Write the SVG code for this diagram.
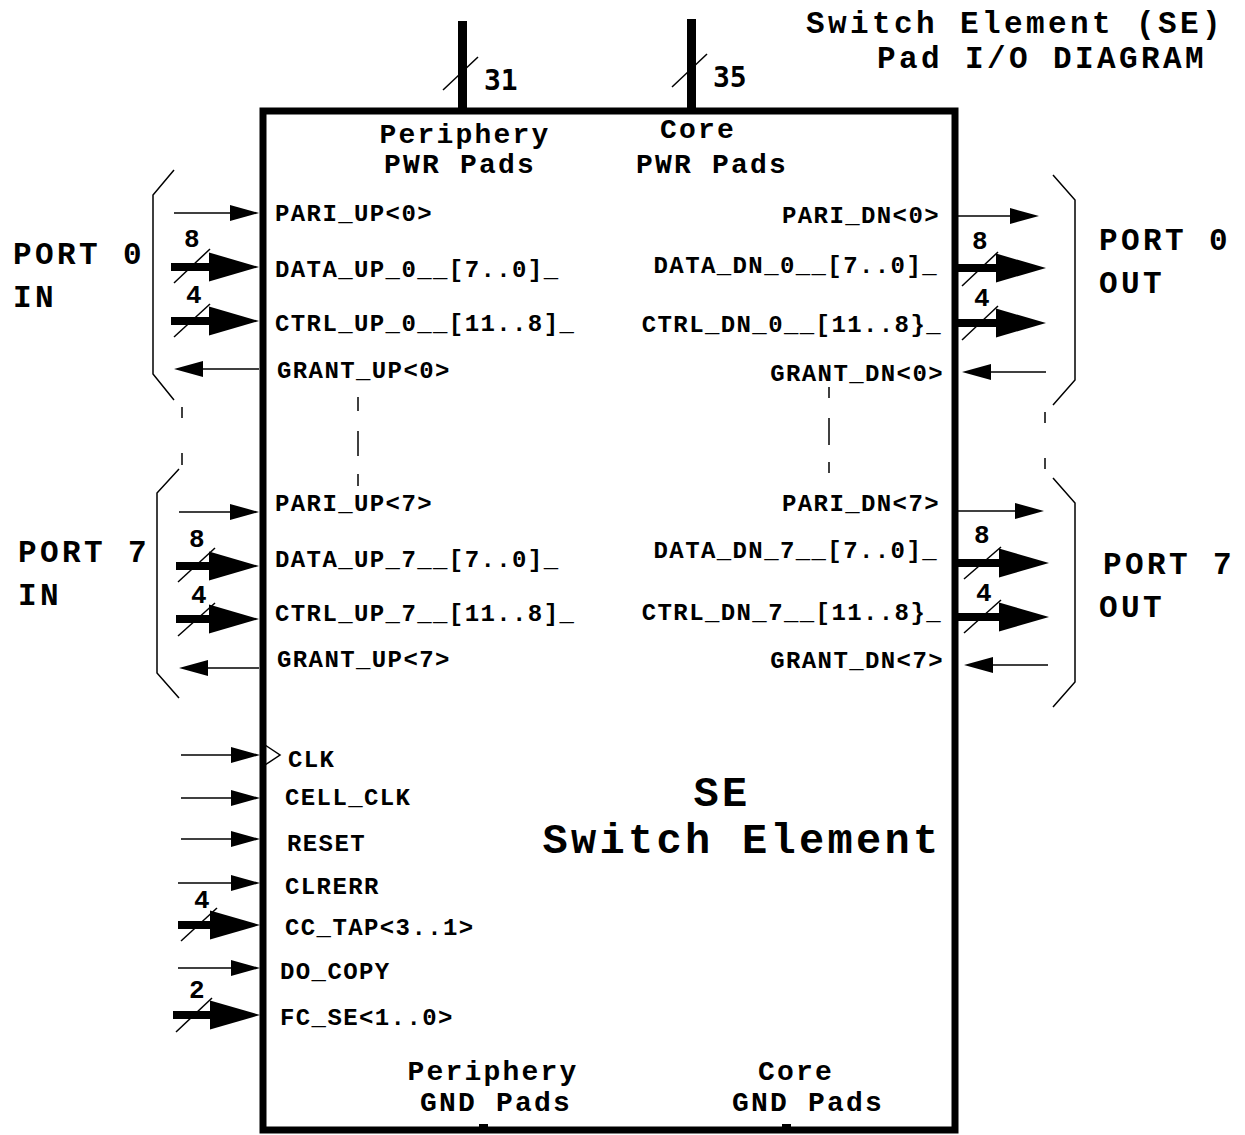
<svg xmlns="http://www.w3.org/2000/svg" width="1245" height="1135" viewBox="0 0 1245 1135">
<style>
  text { font-family: "Liberation Mono", "Courier New", monospace; font-weight: bold; fill: #000; }
  .lbl { font-size: 24px; letter-spacing: 1.4px; }
  .pad { font-size: 28px; letter-spacing: 2.2px; }
  .port { font-size: 31px; letter-spacing: 3.4px; }
  .title { font-size: 31px; letter-spacing: 3.4px; }
  .big { font-size: 42px; letter-spacing: 3.3px; }
  .num { font-size: 26px; }
  .bus { font-family: "DejaVu Sans Mono", monospace; font-size: 28px; }
  .thin { stroke: #000; stroke-width: 1.6; fill: none; }
  .thick { stroke: #000; stroke-width: 8; fill: none; }
  .slash { stroke: #000; stroke-width: 1.5; fill: none; }
  .brk { stroke: #000; stroke-width: 1.5; fill: none; }
</style>
<defs>
  <marker id="ah" markerUnits="userSpaceOnUse" markerWidth="30" markerHeight="18" viewBox="0 -9 30 18" refX="0" refY="0" orient="auto" overflow="visible">
    <path d="M0,-8 L29,0 L0,8 Z" fill="#000"/>
  </marker>
  <marker id="ahb" markerUnits="userSpaceOnUse" markerWidth="52" markerHeight="30" viewBox="0 -15 52 30" refX="0" refY="0" orient="auto" overflow="visible">
    <path d="M0,-14.5 L50,0 L0,14.5 Z" fill="#000"/>
  </marker>
</defs>
<rect width="1245" height="1135" fill="#fff"/>

<g id="title">
  <text class="title" x="1015" y="33" text-anchor="middle">Switch Element (SE)</text>
  <text class="title" x="1042" y="68" text-anchor="middle">Pad I/O DIAGRAM</text>
</g>

<g id="se-box">
  <rect x="263" y="111" width="692" height="1019" fill="none" stroke="#000" stroke-width="7"/>
  <text class="big" x="722" y="806" text-anchor="middle">SE</text>
  <text class="big" x="742" y="853" text-anchor="middle">Switch Element</text>
</g>

<g id="pwr-pads">
  <rect x="458" y="21" width="9" height="90" fill="#000"/>
  <rect x="687" y="19" width="9" height="92" fill="#000"/>
  <text class="pad" x="465" y="143" text-anchor="middle">Periphery</text>
  <text class="pad" x="460" y="173" text-anchor="middle">PWR Pads</text>
  <text class="pad" x="698" y="138" text-anchor="middle">Core</text>
  <text class="pad" x="712" y="173" text-anchor="middle">PWR Pads</text>
  <text class="bus" x="484" y="90">31</text>
  <text class="bus" x="713" y="87">35</text>
</g>

<g id="gnd-pads">
  <rect x="479" y="1124" width="9" height="6" fill="#000"/>
  <rect x="782" y="1124" width="9" height="6" fill="#000"/>
  <text class="pad" x="493" y="1080" text-anchor="middle">Periphery</text>
  <text class="pad" x="496" y="1111" text-anchor="middle">GND Pads</text>
  <text class="pad" x="796" y="1080" text-anchor="middle">Core</text>
  <text class="pad" x="808" y="1111" text-anchor="middle">GND Pads</text>
</g>

<g id="port0-in">
  <polyline class="brk" points="174,170 153,195 153,374 174,400"/>
  <text class="port" x="13" y="264">PORT 0</text>
  <text class="port" x="13" y="307">IN</text>
  <text class="lbl" x="275" y="221">PARI_UP&lt;0&gt;</text>
  <text class="lbl" x="275" y="277">DATA_UP_0__[7..0]_</text>
  <text class="lbl" x="275" y="331">CTRL_UP_0__[11..8]_</text>
  <text class="lbl" x="277" y="378">GRANT_UP&lt;0&gt;</text>
</g>

<g id="port7-in">
  <polyline class="brk" points="179,469 157,493 157,673 179,698"/>
  <text class="port" x="18" y="562">PORT 7</text>
  <text class="port" x="18" y="605">IN</text>
  <text class="lbl" x="275" y="511">PARI_UP&lt;7&gt;</text>
  <text class="lbl" x="275" y="567">DATA_UP_7__[7..0]_</text>
  <text class="lbl" x="275" y="621">CTRL_UP_7__[11..8]_</text>
  <text class="lbl" x="277" y="667">GRANT_UP&lt;7&gt;</text>
</g>

<g id="port0-out">
  <polyline class="brk" points="1053,175 1075,200 1075,380 1053,405"/>
  <text class="port" x="1099" y="250">PORT 0</text>
  <text class="port" x="1099" y="293">OUT</text>
  <text class="lbl" x="940" y="223" text-anchor="end">PARI_DN&lt;0&gt;</text>
  <text class="lbl" x="938" y="273" text-anchor="end">DATA_DN_0__[7..0]_</text>
  <text class="lbl" x="942" y="332" text-anchor="end">CTRL_DN_0__[11..8}_</text>
  <text class="lbl" x="944" y="381" text-anchor="end">GRANT_DN&lt;0&gt;</text>
</g>

<g id="port7-out">
  <polyline class="brk" points="1053,478 1075,503 1075,682 1053,707"/>
  <text class="port" x="1103" y="574">PORT 7</text>
  <text class="port" x="1099" y="617">OUT</text>
  <text class="lbl" x="940" y="511" text-anchor="end">PARI_DN&lt;7&gt;</text>
  <text class="lbl" x="938" y="558" text-anchor="end">DATA_DN_7__[7..0]_</text>
  <text class="lbl" x="942" y="620" text-anchor="end">CTRL_DN_7__[11..8}_</text>
  <text class="lbl" x="944" y="668" text-anchor="end">GRANT_DN&lt;7&gt;</text>
</g>

<g id="control-in">
  <polyline class="brk" points="265,745 280,755 265,765"/>
  <text class="lbl" x="288" y="767">CLK</text>
  <text class="lbl" x="285" y="805">CELL_CLK</text>
  <text class="lbl" x="287" y="851">RESET</text>
  <text class="lbl" x="285" y="894">CLRERR</text>
  <text class="lbl" x="285" y="935">CC_TAP&lt;3..1&gt;</text>
  <text class="lbl" x="280" y="979">DO_COPY</text>
  <text class="lbl" x="280" y="1025">FC_SE&lt;1..0&gt;</text>
</g>

<g id="connectors">
  <!-- continuation dashes -->
  <line class="brk" x1="182" y1="407" x2="182" y2="418"/>
  <line class="brk" x1="182" y1="453" x2="182" y2="465"/>
  <line class="brk" x1="1045" y1="412" x2="1045" y2="423"/>
  <line class="brk" x1="1045" y1="458" x2="1045" y2="469"/>
  <line class="brk" x1="358" y1="397" x2="358" y2="411"/>
  <line class="brk" x1="358" y1="431" x2="358" y2="456"/>
  <line class="brk" x1="358" y1="474" x2="358" y2="486"/>
  <line class="brk" x1="829" y1="387" x2="829" y2="398"/>
  <line class="brk" x1="829" y1="418" x2="829" y2="445"/>
  <line class="brk" x1="829" y1="462" x2="829" y2="473"/>

  <!-- left port 0 -->
  <line class="thin" x1="174" y1="213" x2="230" y2="213" marker-end="url(#ah)"/>
  <line class="thick" x1="171" y1="267" x2="209" y2="267" marker-end="url(#ahb)"/>
  <line class="thick" x1="171" y1="321" x2="209" y2="321" marker-end="url(#ahb)"/>
  <line class="thin" x1="259" y1="369" x2="203" y2="369" marker-end="url(#ah)"/>
  <!-- left port 7 -->
  <line class="thin" x1="179" y1="512" x2="230" y2="512" marker-end="url(#ah)"/>
  <line class="thick" x1="176" y1="566" x2="209" y2="566" marker-end="url(#ahb)"/>
  <line class="thick" x1="176" y1="619" x2="209" y2="619" marker-end="url(#ahb)"/>
  <line class="thin" x1="259" y1="668" x2="208" y2="668" marker-end="url(#ah)"/>
  <!-- control inputs -->
  <line class="thin" x1="181" y1="755" x2="231" y2="755" marker-end="url(#ah)"/>
  <line class="thin" x1="181" y1="798" x2="231" y2="798" marker-end="url(#ah)"/>
  <line class="thin" x1="181" y1="839" x2="231" y2="839" marker-end="url(#ah)"/>
  <line class="thin" x1="178" y1="883" x2="231" y2="883" marker-end="url(#ah)"/>
  <line class="thick" x1="178" y1="925" x2="210" y2="925" marker-end="url(#ahb)"/>
  <line class="thin" x1="178" y1="968" x2="231" y2="968" marker-end="url(#ah)"/>
  <line class="thick" x1="173" y1="1015" x2="210" y2="1015" marker-end="url(#ahb)"/>
  <!-- right port 0 -->
  <line class="thin" x1="958" y1="216" x2="1010" y2="216" marker-end="url(#ah)"/>
  <line class="thick" x1="958" y1="268" x2="996" y2="268" marker-end="url(#ahb)"/>
  <line class="thick" x1="958" y1="323" x2="996" y2="323" marker-end="url(#ahb)"/>
  <line class="thin" x1="1046" y1="372" x2="991" y2="372" marker-end="url(#ah)"/>
  <!-- right port 7 -->
  <line class="thin" x1="958" y1="511" x2="1015" y2="511" marker-end="url(#ah)"/>
  <line class="thick" x1="958" y1="563" x2="999" y2="563" marker-end="url(#ahb)"/>
  <line class="thick" x1="958" y1="617" x2="999" y2="617" marker-end="url(#ahb)"/>
  <line class="thin" x1="1048" y1="665" x2="993" y2="665" marker-end="url(#ah)"/>

  <!-- bus width slashes -->
  <line class="slash" x1="443" y1="90" x2="478" y2="57"/>
  <line class="slash" x1="672" y1="87" x2="707" y2="54"/>
  <line class="slash" x1="174" y1="283" x2="210" y2="249"/>
  <line class="slash" x1="174" y1="337" x2="210" y2="304"/>
  <line class="slash" x1="178" y1="582" x2="215" y2="548"/>
  <line class="slash" x1="178" y1="636" x2="215" y2="603"/>
  <line class="slash" x1="181" y1="941" x2="217" y2="908"/>
  <line class="slash" x1="176" y1="1032" x2="212" y2="998"/>
  <line class="slash" x1="962" y1="286" x2="998" y2="252"/>
  <line class="slash" x1="962" y1="340" x2="998" y2="306"/>
  <line class="slash" x1="964" y1="579" x2="1001" y2="547"/>
  <line class="slash" x1="964" y1="633" x2="1001" y2="600"/>

  <!-- bus widths -->
  <text class="num" x="184" y="247">8</text>
  <text class="num" x="186" y="303">4</text>
  <text class="num" x="189" y="547">8</text>
  <text class="num" x="191" y="603">4</text>
  <text class="num" x="194" y="908">4</text>
  <text class="num" x="189" y="998">2</text>
  <text class="num" x="972" y="249">8</text>
  <text class="num" x="974" y="306">4</text>
  <text class="num" x="974" y="543">8</text>
  <text class="num" x="976" y="601">4</text>
</g>
</svg>
